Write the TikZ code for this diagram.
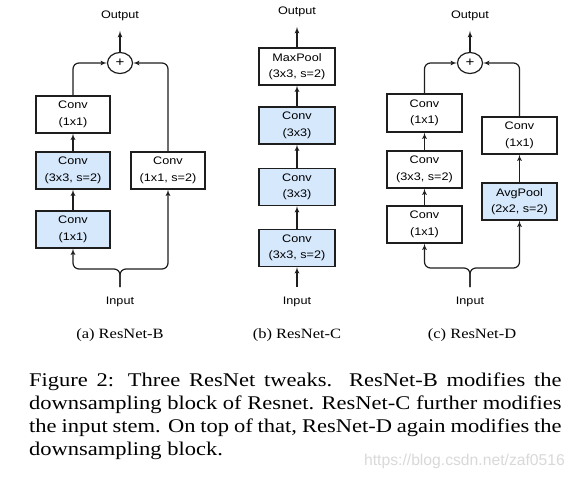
\documentclass[tikz,border=0pt]{standalone}
\usepackage{fontspec}
\setmainfont{Liberation Serif}
\newfontfamily\diagfont{Liberation Sans}
\usepackage{graphicx}
\usetikzlibrary{shapes}
\usetikzlibrary{arrows}
\definecolor{boxblue}{RGB}{214,232,252}
\definecolor{linegray}{RGB}{30,30,30}
% the source picture is stretched sideways, so is its text
\newcommand{\hs}[1]{\scalebox{1.16}[1]{#1}}

\begin{document}
\begin{tikzpicture}[x=1pt,y=-1pt]
\tikzset{block/.style = {shape=rectangle,draw=linegray,line width=1.2pt,minimum width=74pt,minimum height=37pt,inner sep=0pt,align=center,font=\diagfont\fontsize{10.9}{16.5}\selectfont}}
\tikzset{blueblock/.style = {block,fill=boxblue}}
\tikzset{adder/.style = {shape=ellipse,draw=linegray,line width=1.2pt,minimum width=25pt,minimum height=21pt,inner sep=0pt,font=\diagfont\fontsize{13}{14}\selectfont}}
\tikzset{port/.style = {inner sep=0pt,outer ysep=10pt,font=\diagfont\fontsize{10.9}{13}\selectfont}}
\tikzset{sub/.style = {inner sep=0pt,font=\fontsize{14.2}{17}\selectfont}}
\tikzset{edge/.style = {->,> = latex',line width=1.2pt,draw=linegray,rounded corners=6pt}}
\useasboundingbox[fill=white] (0,0) rectangle (575,486);

% (a) ResNet-B
\node[port] (outA) at (120,16) {\hs{Output}};
\node[adder] (plusA) at (120,63) {\hs{+}};
\node[blueblock] (a1) at (73,229.5) {\hs{Conv}\\\hs{(1x1)}};
\node[blueblock] (a2) at (73,170.5) {\hs{Conv}\\\hs{(3x3, s=2)}};
\node[block] (a3) at (73,114.5) {\hs{Conv}\\\hs{(1x1)}};
\node[block] (a4) at (168,170.5) {\hs{Conv}\\\hs{(1x1, s=2)}};
\node[port] (inA) at (120,302) {\hs{Input}};
\coordinate (brA) at (120,269);
\node[sub] (capA) at (120,335) {\hs{(a) ResNet-B}};

\draw[edge] (a1) to (a2);
\draw[edge] (a2) to (a3);
\draw[edge] (a3.north) |- (plusA.west);
\draw[edge] (a4.north) |- (plusA.east);
\draw[edge] (plusA) to (outA);
\draw[edge] (inA.north) -- (brA) -| (a1.south);
\draw[edge] (inA.north) -- (brA) -| (a4.south);

% (b) ResNet-C
\node[port] (outB) at (297,12) {\hs{Output}};
\node[blueblock, minimum width=76pt] (b1) at (297,248) {\hs{Conv}\\\hs{(3x3, s=2)}};
\node[blueblock, minimum width=76pt] (b2) at (297,187) {\hs{Conv}\\\hs{(3x3)}};
\node[blueblock, minimum width=76pt] (b3) at (297,125.5) {\hs{Conv}\\\hs{(3x3)}};
\node[block, minimum width=76pt] (b4) at (297,66.5) {\hs{MaxPool}\\\hs{(3x3, s=2)}};
\node[port] (inB) at (297,302) {\hs{Input}};
\node[sub] (capB) at (297,335) {\hs{(b) ResNet-C}};

\draw[edge] (inB) to (b1);
\draw[edge] (b1) to (b2);
\draw[edge] (b2) to (b3);
\draw[edge] (b3) to (b4);
\draw[edge] (b4) to (outB);

% (c) ResNet-D
\node[port] (outC) at (470,16) {\hs{Output}};
\node[adder] (plusC) at (470,63) {\hs{+}};
\node[block, minimum width=75pt] (c1) at (424.5,224.5) {\hs{Conv}\\\hs{(1x1)}};
\node[block, minimum width=75pt] (c2) at (424.5,169.5) {\hs{Conv}\\\hs{(3x3, s=2)}};
\node[block, minimum width=75pt, minimum height=38pt] (c3) at (424.5,113) {\hs{Conv}\\\hs{(1x1)}};
\node[blueblock, minimum width=75pt] (c4) at (519.5,201.5) {\hs{AvgPool}\\\hs{(2x2, s=2)}};
\node[block, minimum width=75pt] (c5) at (519.5,135.5) {\hs{Conv}\\\hs{(1x1)}};
\node[port] (inC) at (470,302) {\hs{Input}};
\coordinate (brC) at (470,268);
\node[sub] (capC) at (472,335) {\hs{(c) ResNet-D}};

\draw[edge] (c1) to (c2);
\draw[edge] (c2) to (c3);
\draw[edge] (c4) to (c5);
\draw[edge] (c3.north) |- (plusC.west);
\draw[edge] (c5.north) |- (plusC.east);
\draw[edge] (plusC) to (outC);
\draw[edge] (inC.north) -- (brC) -| (c1.south);
\draw[edge] (inC.north) -- (brC) -| (c4.south);

% caption
\node[anchor=base west, inner sep=0pt, font=\fontsize{19.4}{23.3}\selectfont] (fig) at (29,386) {\hs{\parbox[t]{459pt}{Figure 2: Three ResNet tweaks. ResNet-B modifies the\linebreak downsampling block of Resnet. ResNet-C further modifies\linebreak the input stem. On top of that, ResNet-D again modifies the\linebreak downsampling block.}}};
\node[inner sep=0pt, font=\diagfont\fontsize{15.7}{18}\selectfont, text=black!15] (mark) at (464.5,461) {https://blog.csdn.net/zaf0516};
\end{tikzpicture}
\end{document}
